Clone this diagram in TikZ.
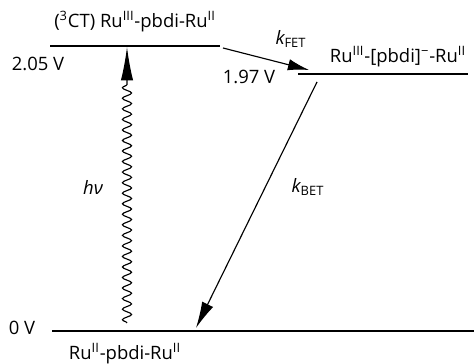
\documentclass[tikz,border=0pt]{standalone}
\usepackage{fontspec}
\setmainfont{Open Sans}
\usepackage{tikz}
\usetikzlibrary{arrows.meta, positioning, decorations.pathmorphing}

\begin{document}
\begin{tikzpicture}[
    x=0.02cm, y=-0.02cm,
    font=\fontsize{10.5}{12}\selectfont,
    level/.style = {line width=1.3pt},
    transfer/.style = {draw, line width=0.65pt},
    photon/.style = {draw, line width=0.65pt, decorate, decoration={snake, amplitude=2.6pt, segment length=6pt, post length=20pt}},
    lbl/.style = {inner sep=0pt}
]
    \useasboundingbox (0,0) rectangle (474,364);

    % energy levels
    \coordinate (ctL) at (50,46);
    \coordinate (ctR) at (220,46);
    \coordinate (csL) at (298,74);
    \coordinate (csR) at (468,74);
    \coordinate (gsL) at (52,331);
    \coordinate (gsR) at (474,331);
    \draw [level] (ctL) -- (ctR);
    \draw [level] (csL) -- (csR);
    \draw [level] (gsL) -- (gsR);

    \node [lbl] (ct) at (135,22) {(\textsuperscript{3}CT) Ru\textsuperscript{III}-pbdi-Ru\textsuperscript{II}};
    \node [lbl] (cs) at (398,57) {Ru\textsuperscript{III}-[pbdi]\textsuperscript{−}-Ru\textsuperscript{II}};
    \node [lbl] (gs) at (125,354) {Ru\textsuperscript{II}-pbdi-Ru\textsuperscript{II}};
    \node [lbl] (ctE) at (38,64) {2.05 V};
    \node [lbl] (csE) at (249,77) {1.97 V};
    \node [lbl] (gsE) at (22,328) {0 V};

    % transfers
    \coordinate (fetA) at (223,48);
    \coordinate (fetB) at (309,70);
    \coordinate (betA) at (317,82);
    \coordinate (betB) at (196,328);
    \coordinate (hvA) at (127,323);
    \coordinate (hvB) at (127,47);
    \path [transfer, -{Latex[length=12pt, width=6.5pt]}] (fetA) -- (fetB);
    \path [transfer, -{Latex[length=15pt, width=7pt]}] (betA) -- (betB);
    \path [photon, -{Latex[length=19pt, width=7pt]}] (hvA) -- (hvB);

    \node [lbl] (fet) at (291,39) {{\itshape k}\textsubscript{FET}};
    \node [lbl] (bet) at (308,187) {{\itshape k}\textsubscript{BET}};
    \node [lbl] (hv) at (93,187) {{\itshape hν}};
\end{tikzpicture}
\end{document}
